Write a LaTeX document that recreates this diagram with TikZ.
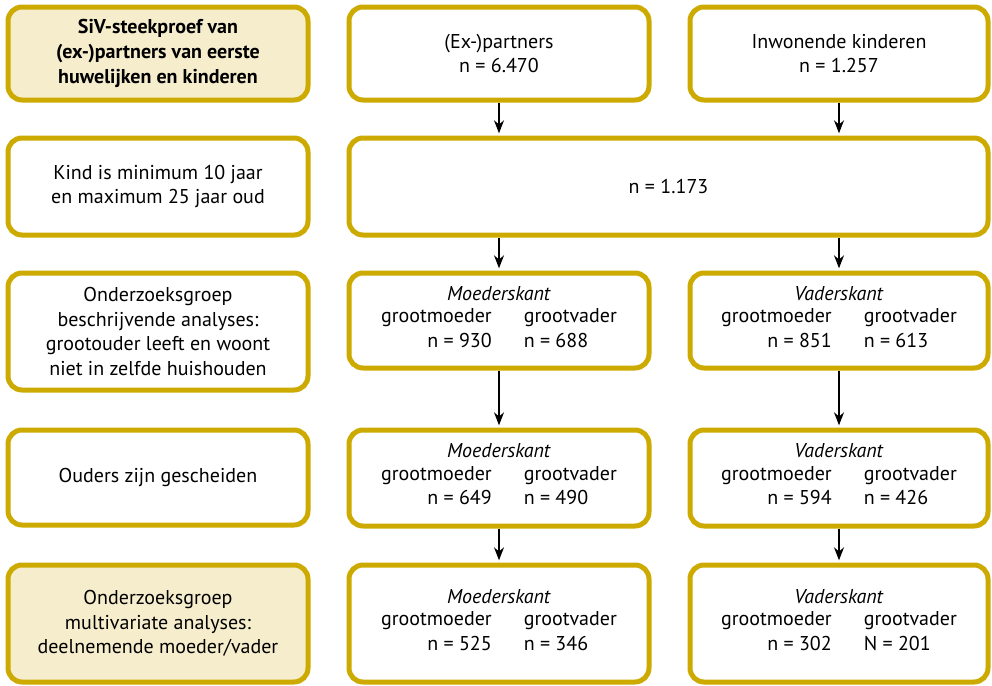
\documentclass[tikz,border=0pt]{standalone}
\usepackage{fontspec}
\setmainfont{PT Sans}
\usetikzlibrary{positioning,arrows.meta,calc}
\definecolor{goud}{RGB}{204,170,0}
\definecolor{licht}{RGB}{245,237,204}
\tikzset{
  blok/.style={rectangle,draw=goud,line width=2.5pt,fill=white,rounded corners=7pt,
    align=center,inner sep=2pt,font=\fontsize{10}{12.3}\selectfont},
  kern/.style={blok,fill=licht},
  pijl/.style={-{Stealth[length=6.5pt,width=5pt]},line width=0.7pt,shorten >=1.1pt},
}
\newcommand{\gpcel}[5]{\textit{#1}\\[1.5pt]
  \begin{tabular}{@{}r@{\hspace{16pt}}l@{}}grootmoeder & grootvader\\#2 = #3 & #4 = #5\end{tabular}}

\begin{document}
\begin{tikzpicture}[x=0.5pt,y=-0.5pt]
  \useasboundingbox (0,0) rectangle (992,686);
  \node[kern,minimum width=150pt,minimum height=46.5pt,font=\fontsize{10}{12.3}\selectfont\bfseries] (steek) at (158,53.5)
    {SiV-steekproef van\\(ex-)partners van eerste\\huwelijken en kinderen};
  \node[blok,minimum width=150pt,minimum height=46.5pt] (partners) at (499,53.5) {(Ex-)partners\\n = 6.470};
  \node[blok,minimum width=149pt,minimum height=46.5pt] (kinderen) at (839,53.5) {Inwonende kinderen\\n = 1.257};
  \node[blok,minimum width=150pt,minimum height=48.5pt] (leeftijd) at (158,186.5) {Kind is minimum 10 jaar\\en maximum 25 jaar oud};
  \node[blok,minimum width=319.5pt,minimum height=48.5pt] (totaal) at (668.5,186.5) {n = 1.173};
  \node[blok,minimum width=150pt,minimum height=58.5pt] (beschr) at (158,331.5)
    {Onderzoeksgroep\\beschrijvende analyses:\\grootouder leeft en woont\\niet in zelfde huishouden};
  \node[blok,minimum width=150pt,minimum height=47.5pt] (moeder1) at (499,320.5) {\gpcel{Moederskant}{n}{930}{n}{688}};
  \node[blok,minimum width=149pt,minimum height=47.5pt] (vader1) at (839,320.5) {\gpcel{Vaderskant}{n}{851}{n}{613}};
  \node[blok,minimum width=150pt,minimum height=47.5pt] (gescheiden) at (158,477.5) {Ouders zijn gescheiden};
  \node[blok,minimum width=150pt,minimum height=48pt] (moeder2) at (499,478) {\gpcel{Moederskant}{n}{649}{n}{490}};
  \node[blok,minimum width=149pt,minimum height=48pt] (vader2) at (839,478) {\gpcel{Vaderskant}{n}{594}{n}{426}};
  \node[kern,minimum width=150pt,minimum height=58.5pt] (multi) at (158,623.5)
    {Onderzoeksgroep\\multivariate analyses:\\deelnemende moeder/vader};
  \node[blok,minimum width=150pt,minimum height=58.5pt] (moeder3) at (499,623.5) {\gpcel{Moederskant}{n}{525}{n}{346}};
  \node[blok,minimum width=149pt,minimum height=58.5pt] (vader3) at (839,623.5) {\gpcel{Vaderskant}{n}{302}{N}{201}};
  \draw[pijl] (partners.south) -- (partners.south |- totaal.north);
  \draw[pijl] (kinderen.south) -- (kinderen.south |- totaal.north);
  \draw[pijl] (moeder1.north |- totaal.south) -- (moeder1.north);
  \draw[pijl] (vader1.north |- totaal.south) -- (vader1.north);
  \draw[pijl] (moeder1) -- (moeder2); \draw[pijl] (vader1) -- (vader2);
  \draw[pijl] (moeder2) -- (moeder3); \draw[pijl] (vader2) -- (vader3);
\end{tikzpicture}
\end{document}
